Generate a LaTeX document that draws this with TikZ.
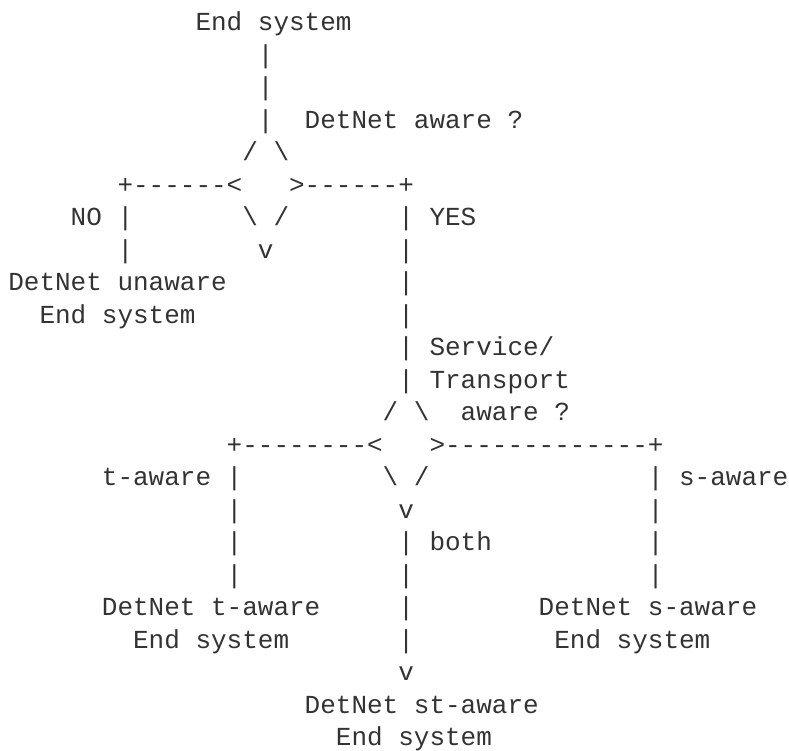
\documentclass[tikz,border=0pt]{standalone}
\usepackage{fontspec}
\setmonofont{Liberation Mono}
\definecolor{txtgray}{HTML}{333333}
\tikzset{asc/.style={anchor=base west, inner sep=0pt, outer sep=0pt,
  font=\ttfamily\fontsize{26}{26}\selectfont, text=txtgray}}
\newcommand{\asc}[4]{\node[asc] (#3) at ({8.3+15.6*#2},{-30.7-32.5*#1}) {#4};}
\begin{document}
\begin{tikzpicture}[x=1pt,y=1pt]
\useasboundingbox (0,0) rectangle (789,-751);
\asc{0}{12}{top}{End system}
\asc{1}{16}{b1}{|}
\asc{2}{16}{b2}{|}
\asc{3}{16}{b3}{|}
\asc{3}{19}{q1}{DetNet aware ?}
\asc{4}{15}{d1a}{/}
\asc{4}{17}{d1b}{\textbackslash}
\asc{5}{7}{d1l}{+------<}
\asc{5}{18}{d1r}{>------+}
\asc{6}{4}{no}{NO |}
\asc{6}{15}{d1c}{\textbackslash{} /}
\asc{6}{25}{yes}{| YES}
\asc{7}{7}{nb}{|}
\asc{7}{16}{v1}{v}
\asc{7}{25}{yb1}{|}
\asc{8}{0}{un1}{DetNet unaware}
\asc{8}{25}{yb2}{|}
\asc{9}{2}{un2}{End system}
\asc{9}{25}{yb3}{|}
\asc{10}{25}{q2a}{| Service/}
\asc{11}{25}{q2b}{| Transport}
\asc{12}{24}{d2a}{/ \textbackslash}
\asc{12}{29}{q2c}{aware ?}
\asc{13}{14}{d2l}{+--------<}
\asc{13}{27}{d2r}{>-------------+}
\asc{14}{6}{ta}{t-aware |}
\asc{14}{24}{d2c}{\textbackslash{} /}
\asc{14}{41}{sa}{| s-aware}
\asc{15}{14}{tb1}{|}
\asc{15}{25}{v2}{v}
\asc{15}{41}{sb1}{|}
\asc{16}{14}{tb2}{|}
\asc{16}{25}{both}{| both}
\asc{16}{41}{sb2}{|}
\asc{17}{14}{tb3}{|}
\asc{17}{25}{bb1}{|}
\asc{17}{41}{sb3}{|}
\asc{18}{6}{t1}{DetNet t-aware}
\asc{18}{25}{bb2}{|}
\asc{18}{34}{s1}{DetNet s-aware}
\asc{19}{8}{t2}{End system}
\asc{19}{25}{bb3}{|}
\asc{19}{35}{s2}{End system}
\asc{20}{25}{v3}{v}
\asc{21}{19}{st1}{DetNet st-aware}
\asc{22}{21}{st2}{End system}
\end{tikzpicture}
\end{document}
